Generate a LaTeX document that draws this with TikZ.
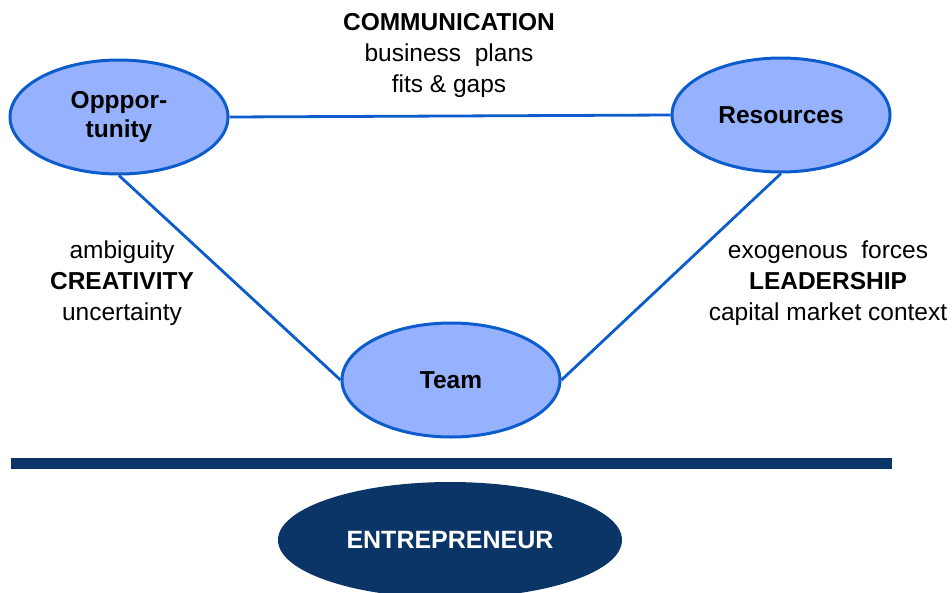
\documentclass[tikz,border=0pt]{standalone}
\usepackage{fontspec}
\setmainfont{Liberation Sans}
\usetikzlibrary{shapes.geometric,positioning}

\definecolor{ovalfill}{RGB}{150,178,255}
\definecolor{ovalline}{RGB}{12,92,204}
\definecolor{navy}{RGB}{11,53,102}

\begin{document}
\begin{tikzpicture}[x=1pt,y=-1pt,
	oval/.style={shape=ellipse, draw=ovalline, line width=3pt, fill=ovalfill, inner sep=0pt,
		minimum width=218pt, minimum height=114pt, align=center,
		font=\fontsize{24.5}{29}\selectfont\bfseries},
	link/.style={draw=ovalline, line width=2.8pt},
	words/.style={align=center, font=\fontsize{24.5}{31}\selectfont}]
	\useasboundingbox (0,0) rectangle (952,592);
	\path (119,117) node (opp) [oval] {Opppor-\\tunity}
		  (781,115) node (res) [oval] {Resources}
		  (451,380) node (team) [oval] {Team};
	\draw[link] (opp.east) -- (res.west);
	\draw[link] (opp.south) -- (team.west);
	\draw[link] (res.south) -- (team.east);
	% labels along the three sides
	\path (449,55) node (comm) [words] {\textbf{COMMUNICATION}\\business\ \ plans\\fits \& gaps}
		  (122,283) node (crea) [words] {ambiguity\\\textbf{CREATIVITY}\\uncertainty}
		  (828,283) node (lead) [words] {exogenous\ \ forces\\\textbf{LEADERSHIP}\\capital market context};
	% base bar and the entrepreneur underneath
	\fill[navy] (11,458) rectangle (892,469);
	\path (450,540) node (entr) [shape=ellipse, fill=navy, inner sep=0pt, minimum width=344pt,
		minimum height=116pt, text=white, font=\fontsize{25}{29}\selectfont\bfseries] {ENTREPRENEUR};
\end{tikzpicture}
\end{document}
